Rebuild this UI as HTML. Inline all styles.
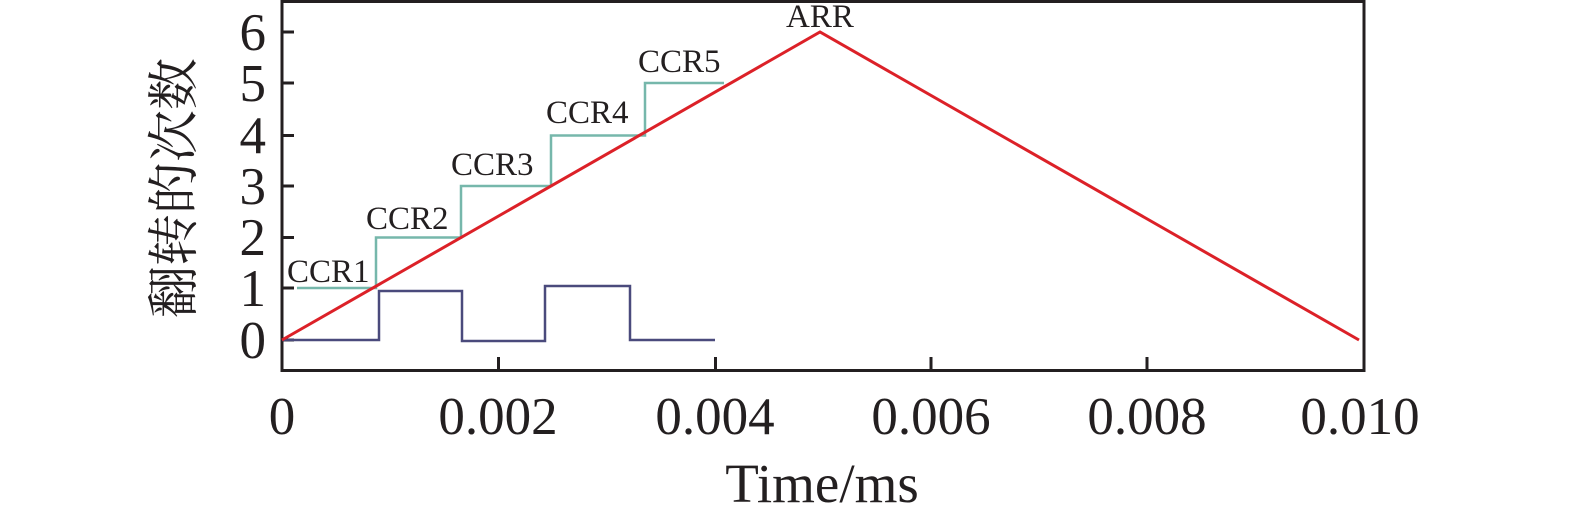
<!DOCTYPE html>
<html><head><meta charset="utf-8"><style>
html,body{margin:0;padding:0;background:#fff;}
svg{display:block;}
text{font-family:"Liberation Serif","Noto Serif CJK SC",serif;fill:#231f20;}
</style></head><body>
<svg width="1575" height="522" viewBox="0 0 1575 522">
<rect x="282" y="1.5" width="1082" height="369" fill="none" stroke="#231f20" stroke-width="3"/>
<g stroke="#231f20" stroke-width="3">
<line x1="282" y1="32" x2="294" y2="32"/><line x1="282" y1="83" x2="294" y2="83"/>
<line x1="282" y1="135.5" x2="294" y2="135.5"/><line x1="282" y1="186" x2="294" y2="186"/>
<line x1="282" y1="237.5" x2="294" y2="237.5"/><line x1="282" y1="288" x2="294" y2="288"/>
<line x1="282" y1="340" x2="294" y2="340"/>
<line x1="498.5" y1="370" x2="498.5" y2="357"/><line x1="715.5" y1="370" x2="715.5" y2="357"/>
<line x1="931" y1="370" x2="931" y2="357"/><line x1="1147" y1="370" x2="1147" y2="357"/>
</g>
<g font-size="53" text-anchor="end">
<text x="266" y="50">6</text><text x="266" y="101">5</text><text x="266" y="153">4</text>
<text x="266" y="204">3</text><text x="266" y="255">2</text><text x="266" y="306">1</text>
<text x="266" y="358">0</text>
</g>
<g font-size="53" text-anchor="middle">
<text x="282" y="434">0</text><text x="498" y="434">0.002</text><text x="715" y="434">0.004</text>
<text x="931" y="434">0.006</text><text x="1147" y="434">0.008</text><text x="1360" y="434">0.010</text>
</g>
<text x="822" y="502" font-size="55" text-anchor="middle">Time/ms</text>
<text font-size="52" text-anchor="middle" transform="translate(192,188) rotate(-90)">翻转的次数</text>
<polyline fill="none" stroke="#76b7ab" stroke-width="2.5" points="297,288 376,288 376,237.5 461,237.5 461,186 551,186 551,135.5 645,135.5 645,83 724,83"/>
<polyline fill="none" stroke="#4a4a7c" stroke-width="2.5" points="282,340 379,340 379,291 462,291 462,341 545,341 545,286 630,286 630,340 715,340"/>
<polyline fill="none" stroke="#dc2128" stroke-width="3" points="282,340 820,32 1359,340"/>
<g font-size="33">
<text x="287" y="282">CCR1</text><text x="366" y="229">CCR2</text><text x="451" y="175">CCR3</text>
<text x="546" y="123">CCR4</text><text x="638" y="72">CCR5</text><text x="786" y="27">ARR</text>
</g>
</svg>
</body></html>
